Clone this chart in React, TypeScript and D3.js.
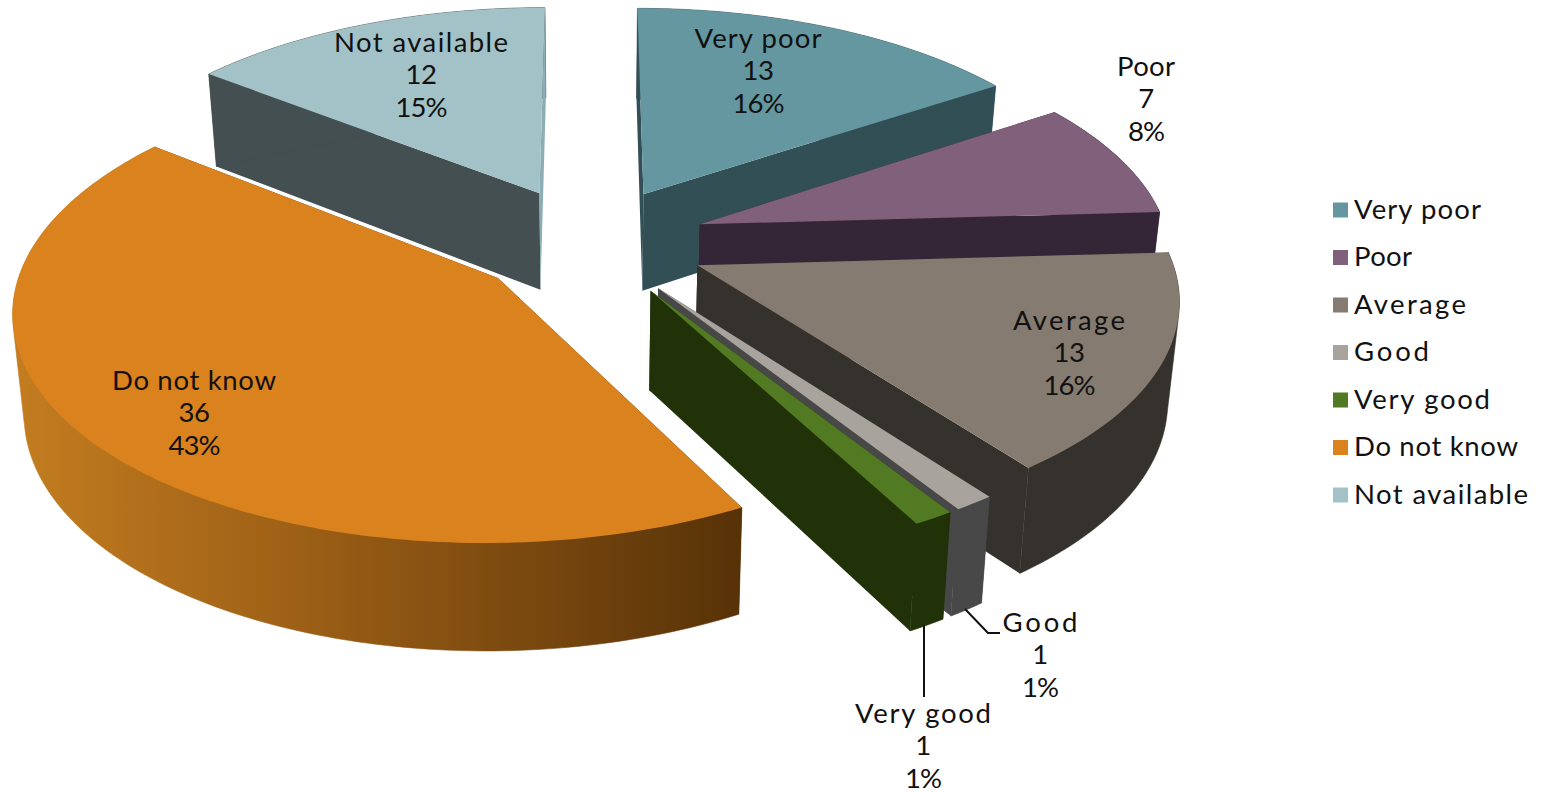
import React from 'react';
import * as d3 from 'd3';

const categories = ['Very poor', 'Poor', 'Average', 'Good', 'Very good', 'Do not know', 'Not available'];
const values = [13, 7, 13, 1, 1, 36, 12];
const percents = ['16%', '8%', '16%', '1%', '1%', '43%', '15%'];
const topColors = ['#64979f', '#80607a', '#857b70', '#a9a39d', '#527a22', '#d9821e', '#a2c2c7'];
const sideColors = ['#324f56', '#352637', '#35312c', '#484848', '#213209', 'url(#dnkSide)', '#434f50'];
const startWallColors = ['#324f56', '#352637', '#35312c', '#484848', '#213209', '#593207', '#434f50'];
const endWallColors = ['#324f56', '#352637', '#35312c', '#484848', '#213209', '#593207', '#8aaeb3'];
const labelX = [758, 1146, 1069, 1040, 923, 194, 421];
const labelY = [39, 67, 321, 623, 714, 381, 43];
// the names are set in a narrower face than the reference, so they are stretched to its widths
const nameWidths = [127, 58, 112, 75, 136, 164, 174];

const WIDTH = 1545;
const HEIGHT = 793;
const FONT = 'Lato, sans-serif';
const FONT_SIZE = 27.5;
const LINE_GAP = 32.6;

// pie projection, fitted to the reference
const cx = 589.5;
const cy = 241.6;
const rx = 469.5;
const ry = 221;
const persp = 0.128;
const explode = 0.25;

type Pt = [number, number];

const project = (u: number, v: number): Pt => {
  const w = 1 - persp * v;
  return [cx + (rx * u) / w, cy + (ry * v) / w];
};

const extrude = ([x, y]: Pt): Pt => [x - (x - cx) * 0.02, y + 90 + 0.033 * y];

const pieGen = d3.pie<number>().sort(null).startAngle(0).endAngle(2 * Math.PI);
const arcs = pieGen(values);

const line = d3.line<Pt>();

const rimPoints = (a0: number, a1: number, mid: number): Pt[] => {
  const ox = Math.sin(mid) * explode;
  const oy = -Math.cos(mid) * explode;
  const n = Math.max(2, Math.ceil((a1 - a0) / 0.02));
  return d3.range(n + 1).map((i) => {
    const a = a0 + ((a1 - a0) * i) / n;
    return project(Math.sin(a) + ox, -Math.cos(a) + oy);
  });
};

const slices = arcs.map((d, i) => {
  const mid = (d.startAngle + d.endAngle) / 2;
  const apex = project(Math.sin(mid) * explode, -Math.cos(mid) * explode);
  const rim = rimPoints(d.startAngle, d.endAngle, mid);
  const rimLow = rim.map(extrude);
  const first = rim[0];
  const last = rim[rim.length - 1];
  // hull keeps the silhouette straight where the rim turns away
  const hull = d3.polygonHull([...rim, ...rimLow])!;
  return {
    i,
    top: line([apex, ...rim])! + 'Z',
    outer: line(hull)! + 'Z',
    startWall: line([apex, first, extrude(first), extrude(apex)])! + 'Z',
    endWall: line([apex, last, extrude(last), extrude(apex)])! + 'Z',
  };
});

const legendY = d3.scalePoint<string>().domain(categories).range([210, 495]);

const App = () => (
  <svg
    width={WIDTH}
    height={HEIGHT}
    style={{ position: 'absolute', left: 0, top: 0, display: 'block', background: '#fff' }}
    fontFamily={FONT}
    fontSize={FONT_SIZE}
    fill="#111"
  >
    <defs>
      <linearGradient id="dnkSide" gradientUnits="userSpaceOnUse" x1={12} x2={742} y1={0} y2={0}>
        <stop offset="0" stopColor="#c47d20" />
        <stop offset="0.4" stopColor="#9c5f16" />
        <stop offset="0.75" stopColor="#74450e" />
        <stop offset="1" stopColor="#573207" />
      </linearGradient>
    </defs>

    {slices.map((s) => (
      <g key={categories[s.i]}>
        <path d={s.startWall} fill={startWallColors[s.i]} />
        {/* thin stroke closes the antialiasing seam between wall pieces */}
        <path d={s.outer} fill={sideColors[s.i]} stroke={sideColors[s.i]} strokeWidth={0.6} />
        <path d={s.endWall} fill={endWallColors[s.i]} />
        <path d={s.top} fill={topColors[s.i]} />
      </g>
    ))}

    {/* leader lines for the two thin slices */}
    <polyline points="965,609 988,633 1000,633" fill="none" stroke="#111" strokeWidth={2} />
    <line x1={924} y1={625} x2={924} y2={697} stroke="#111" strokeWidth={2} />

    {categories.map((c, i) => (
      <g key={c} textAnchor="middle">
        <text x={labelX[i]} y={labelY[i]} dy="0.32em" textLength={nameWidths[i]} lengthAdjust="spacing">
          {c}
        </text>
        <text x={labelX[i]} y={labelY[i] + LINE_GAP} dy="0.32em" letterSpacing={-0.5}>
          {values[i]}
        </text>
        <text x={labelX[i]} y={labelY[i] + 2 * LINE_GAP} dy="0.32em" letterSpacing={-1}>
          {percents[i]}
        </text>
      </g>
    ))}

    {categories.map((c, i) => (
      <g key={c} transform={`translate(0,${legendY(c)})`}>
        <rect x={1333} y={-7.5} width={15} height={15} fill={topColors[i]} />
        <text x={1354} dy="0.32em" textLength={nameWidths[i]} lengthAdjust="spacing">
          {c}
        </text>
      </g>
    ))}
  </svg>
);

export default App;
